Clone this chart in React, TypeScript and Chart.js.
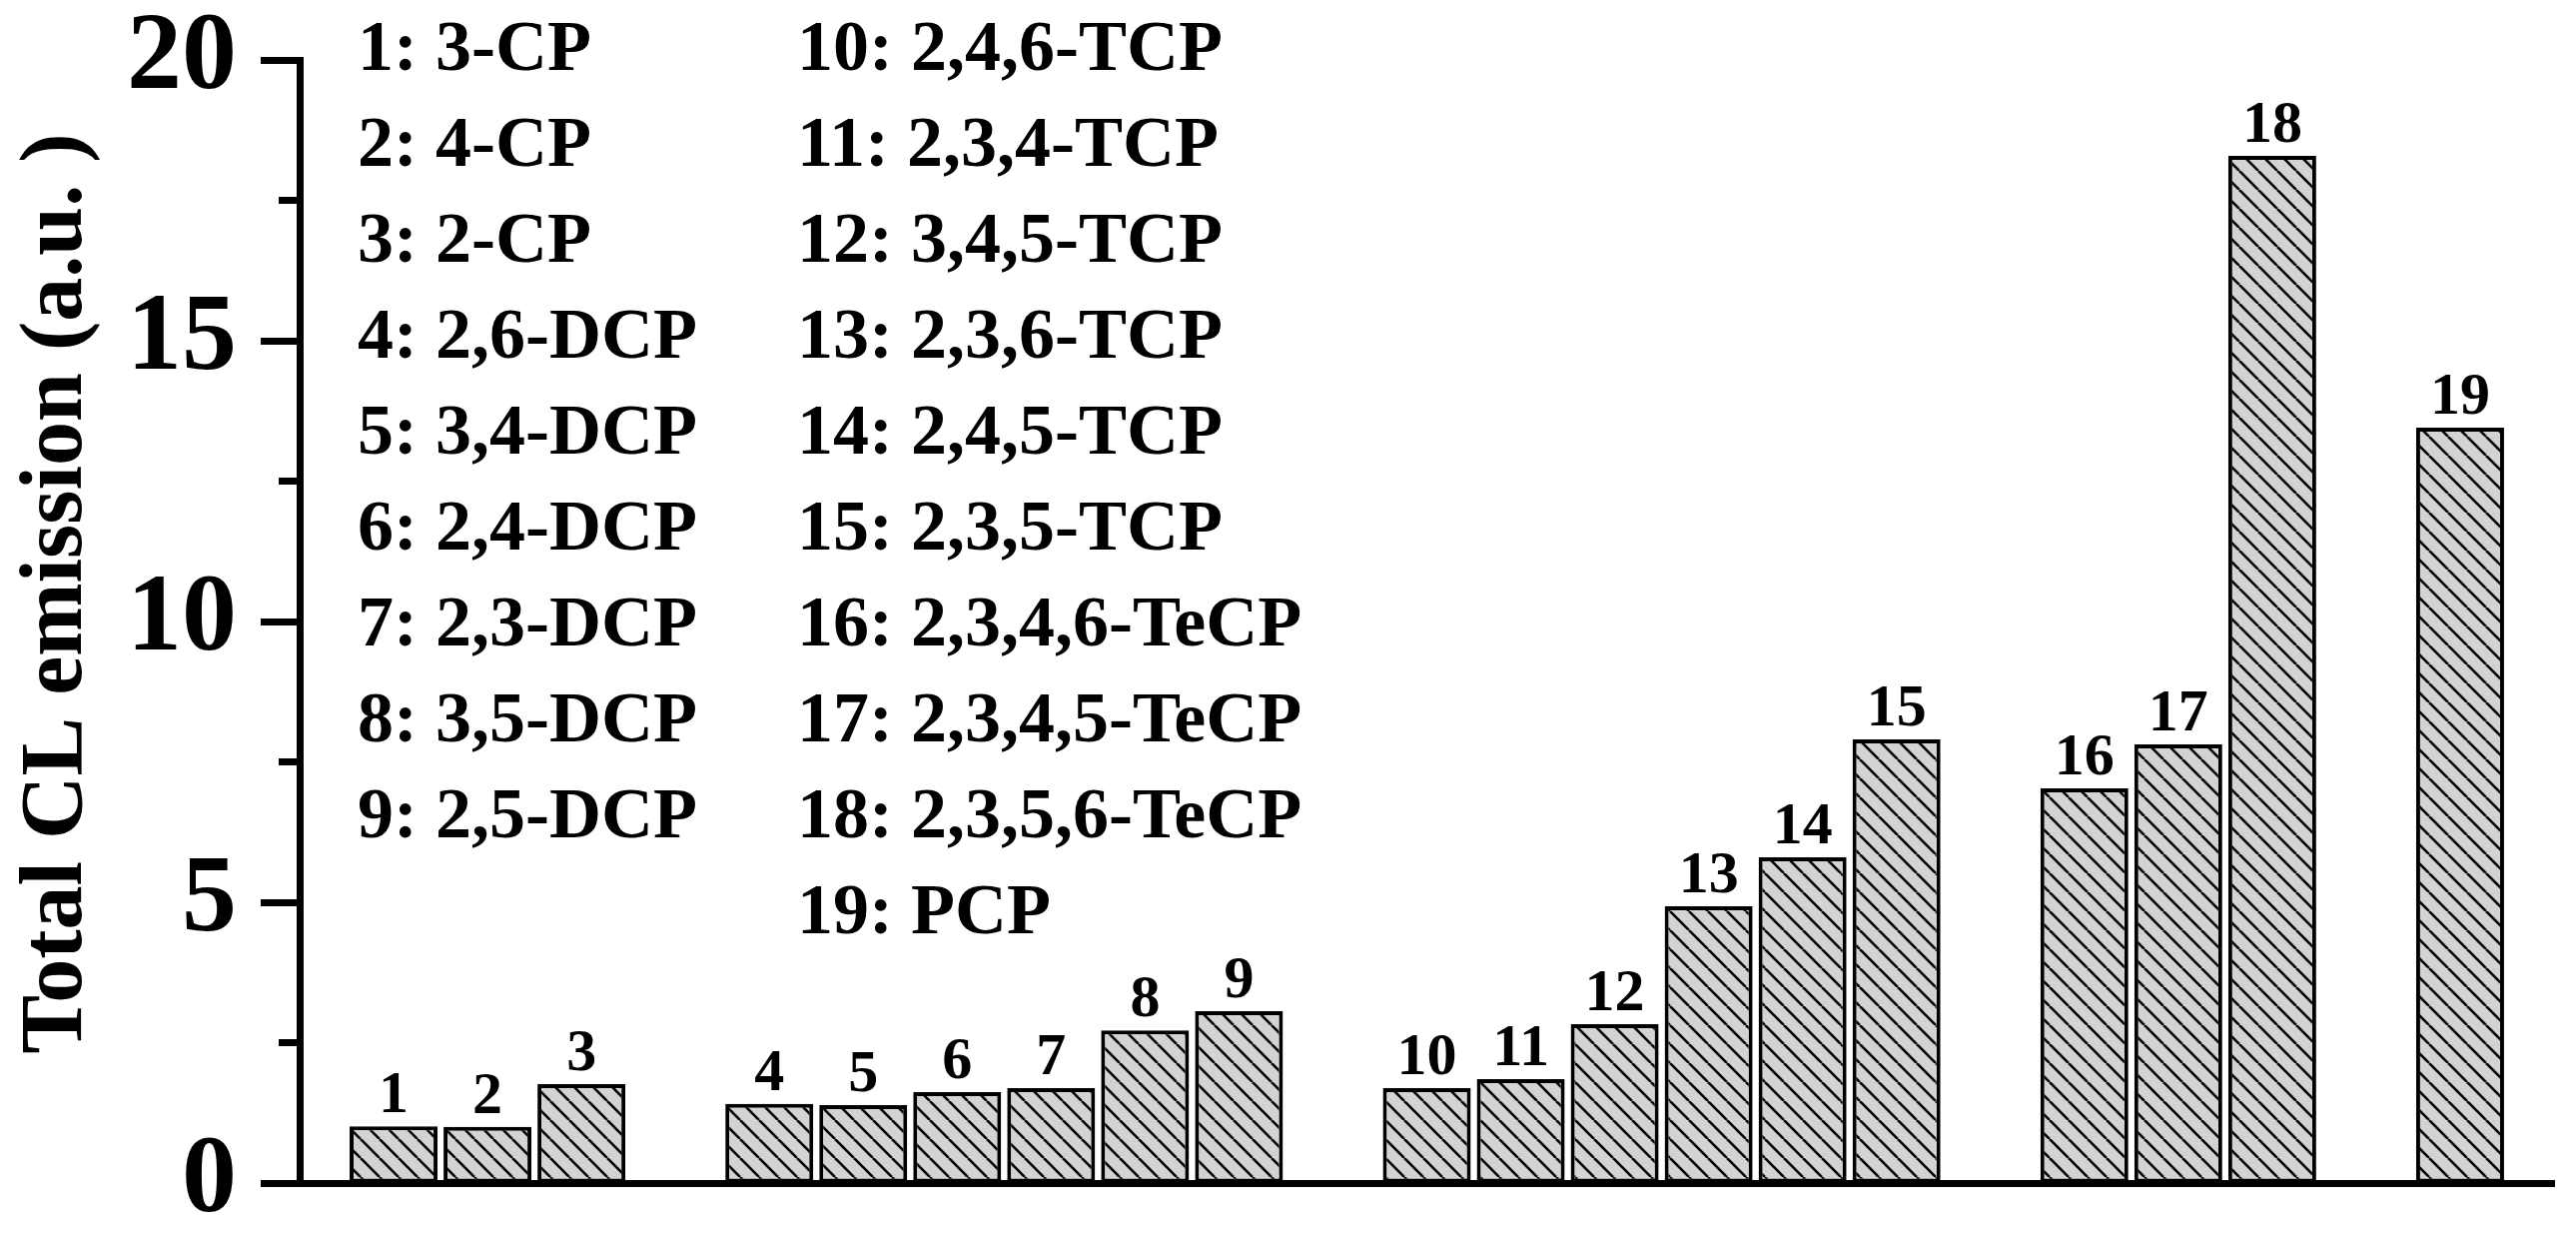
import { useEffect, useRef } from "react"
import { Chart, registerables } from "chart.js"

Chart.register(...registerables)

const FONT = "'Liberation Serif', 'Times New Roman', serif"

const compounds = [
  "3-CP", "4-CP", "2-CP",
  "2,6-DCP", "3,4-DCP", "2,4-DCP", "2,3-DCP", "3,5-DCP", "2,5-DCP",
  "2,4,6-TCP", "2,3,4-TCP", "3,4,5-TCP", "2,3,6-TCP", "2,4,5-TCP", "2,3,5-TCP",
  "2,3,4,6-TeCP", "2,3,4,5-TeCP", "2,3,5,6-TeCP",
  "PCP",
]
const barNumbers = ["1", "2", "3", "4", "5", "6", "7", "8", "9", "10", "11", "12", "13", "14", "15", "16", "17", "18", "19"]
// slot of each bar along the x axis, empty slots split the groups
const barSlots = [1, 2, 3, 5, 6, 7, 8, 9, 10, 12, 13, 14, 15, 16, 17, 19, 20, 21, 23]
const emission = [1.01, 1.0, 1.76, 1.41, 1.39, 1.62, 1.69, 2.72, 3.06, 1.69, 1.85, 2.83, 4.93, 5.8, 7.9, 7.03, 7.81, 18.29, 13.45]
const yTicks = [0, 5, 10, 15, 20]
const yMinorTicks = [2.5, 7.5, 12.5, 17.5]
const yTitle = "Total CL emission (a.u. )"
const legendColumn1 = 9

function makeHatch() {
  const s = 19
  const c = document.createElement("canvas")
  c.width = s
  c.height = s
  const g = c.getContext("2d")!
  g.fillStyle = "#d3d3d3"
  g.fillRect(0, 0, s, s)
  g.strokeStyle = "#000"
  g.lineWidth = 2.6
  for (const k of [-1, 0, 1]) {
    g.beginPath()
    g.moveTo(k * s, 0)
    g.lineTo(k * s + s, s)
    g.stroke()
  }
  return g.createPattern(c, "repeat")
}

const annotations = {
  id: "annotations",
  afterDatasetsDraw(chart: any) {
    const { ctx, chartArea } = chart
    const meta = chart.getDatasetMeta(0)
    ctx.save()
    ctx.fillStyle = "#000"

    // numbers above bars
    ctx.font = `bold 60px ${FONT}`
    ctx.textAlign = "center"
    ctx.textBaseline = "alphabetic"
    meta.data.forEach((bar: any, i: number) => {
      ctx.fillText(barNumbers[i], bar.x, bar.y - 14)
    })

    // key of compound names
    ctx.font = `bold 72px ${FONT}`
    ctx.textAlign = "left"
    compounds.forEach((name, i) => {
      const col = i < legendColumn1 ? 0 : 1
      const row = col === 0 ? i : i - legendColumn1
      const x = chartArea.left + (col === 0 ? 58 : 498)
      const y = chartArea.top + 10 + row * 96
      ctx.fillText(`${barNumbers[i]}: ${name}`, x, y)
    })

    // minor ticks
    const yScale = chart.scales.y
    ctx.strokeStyle = "#000"
    ctx.lineWidth = 7
    yMinorTicks.forEach((v) => {
      const py = yScale.getPixelForValue(v)
      ctx.beginPath()
      ctx.moveTo(chartArea.left - 21, py)
      ctx.lineTo(chartArea.left, py)
      ctx.stroke()
    })

    // y axis title
    ctx.translate(chartArea.left - 219, (chartArea.top + chartArea.bottom) / 2 - 28)
    ctx.rotate(-Math.PI / 2)
    ctx.font = `bold 88px ${FONT}`
    ctx.textAlign = "center"
    ctx.fillText(yTitle, 0, 0)
    ctx.restore()
  },
}

export default function App() {
  const chartRef = useRef<HTMLCanvasElement>(null)
  const chartInstance = useRef<Chart | null>(null)

  useEffect(() => {
    if (!chartRef.current) return
    if (chartInstance.current) chartInstance.current.destroy()
    const ctx = chartRef.current.getContext("2d")
    if (!ctx) return

    const hatch = makeHatch()

    chartInstance.current = new Chart(ctx, {
      type: "bar",
      data: {
        datasets: [
          {
            data: emission.map((v, i) => ({ x: barSlots[i], y: v })),
            backgroundColor: hatch as any,
            borderColor: "#000",
            borderWidth: 4,
            borderSkipped: false,
            categoryPercentage: 1,
            barPercentage: 0.936,
          },
        ],
      },
      options: {
        animation: false,
        responsive: true,
        maintainAspectRatio: false,
        devicePixelRatio: 1,
        layout: { padding: { left: 0, top: 60, right: 22, bottom: 53 } },
        plugins: {
          legend: { display: false },
          tooltip: { enabled: false },
        },
        scales: {
          x: {
            type: "linear",
            min: 0,
            max: 24,
            offset: false,
            ticks: { display: false, stepSize: 1 },
            grid: { display: true, drawOnChartArea: false, drawTicks: false },
            border: { display: true, color: "#000", width: 7 },
            afterFit: (s: any) => {
              s.height = 0
            },
          },
          y: {
            min: 0,
            max: 20,
            afterBuildTicks: (s: any) => {
              s.ticks = yTicks.map((v) => ({ value: v }))
            },
            ticks: {
              color: "#000",
              padding: 24,
              font: { family: FONT, size: 110, weight: "bold", lineHeight: 1 },
            },
            grid: {
              drawOnChartArea: false,
              drawTicks: true,
              tickLength: 39,
              tickWidth: 7,
              tickColor: "#000",
            },
            border: { display: true, color: "#000", width: 7 },
            afterFit: (s: any) => {
              s.width = 300
              s.paddingTop = 0
              s.paddingBottom = 0
            },
          },
        },
      },
      plugins: [annotations],
    })

    return () => {
      if (chartInstance.current) chartInstance.current.destroy()
      chartInstance.current = null
    }
  }, [])

  return (
    <div style={{ position: "fixed", left: 0, top: 0, width: 2579, height: 1237, background: "#fff" }}>
      <canvas ref={chartRef} />
    </div>
  )
}
